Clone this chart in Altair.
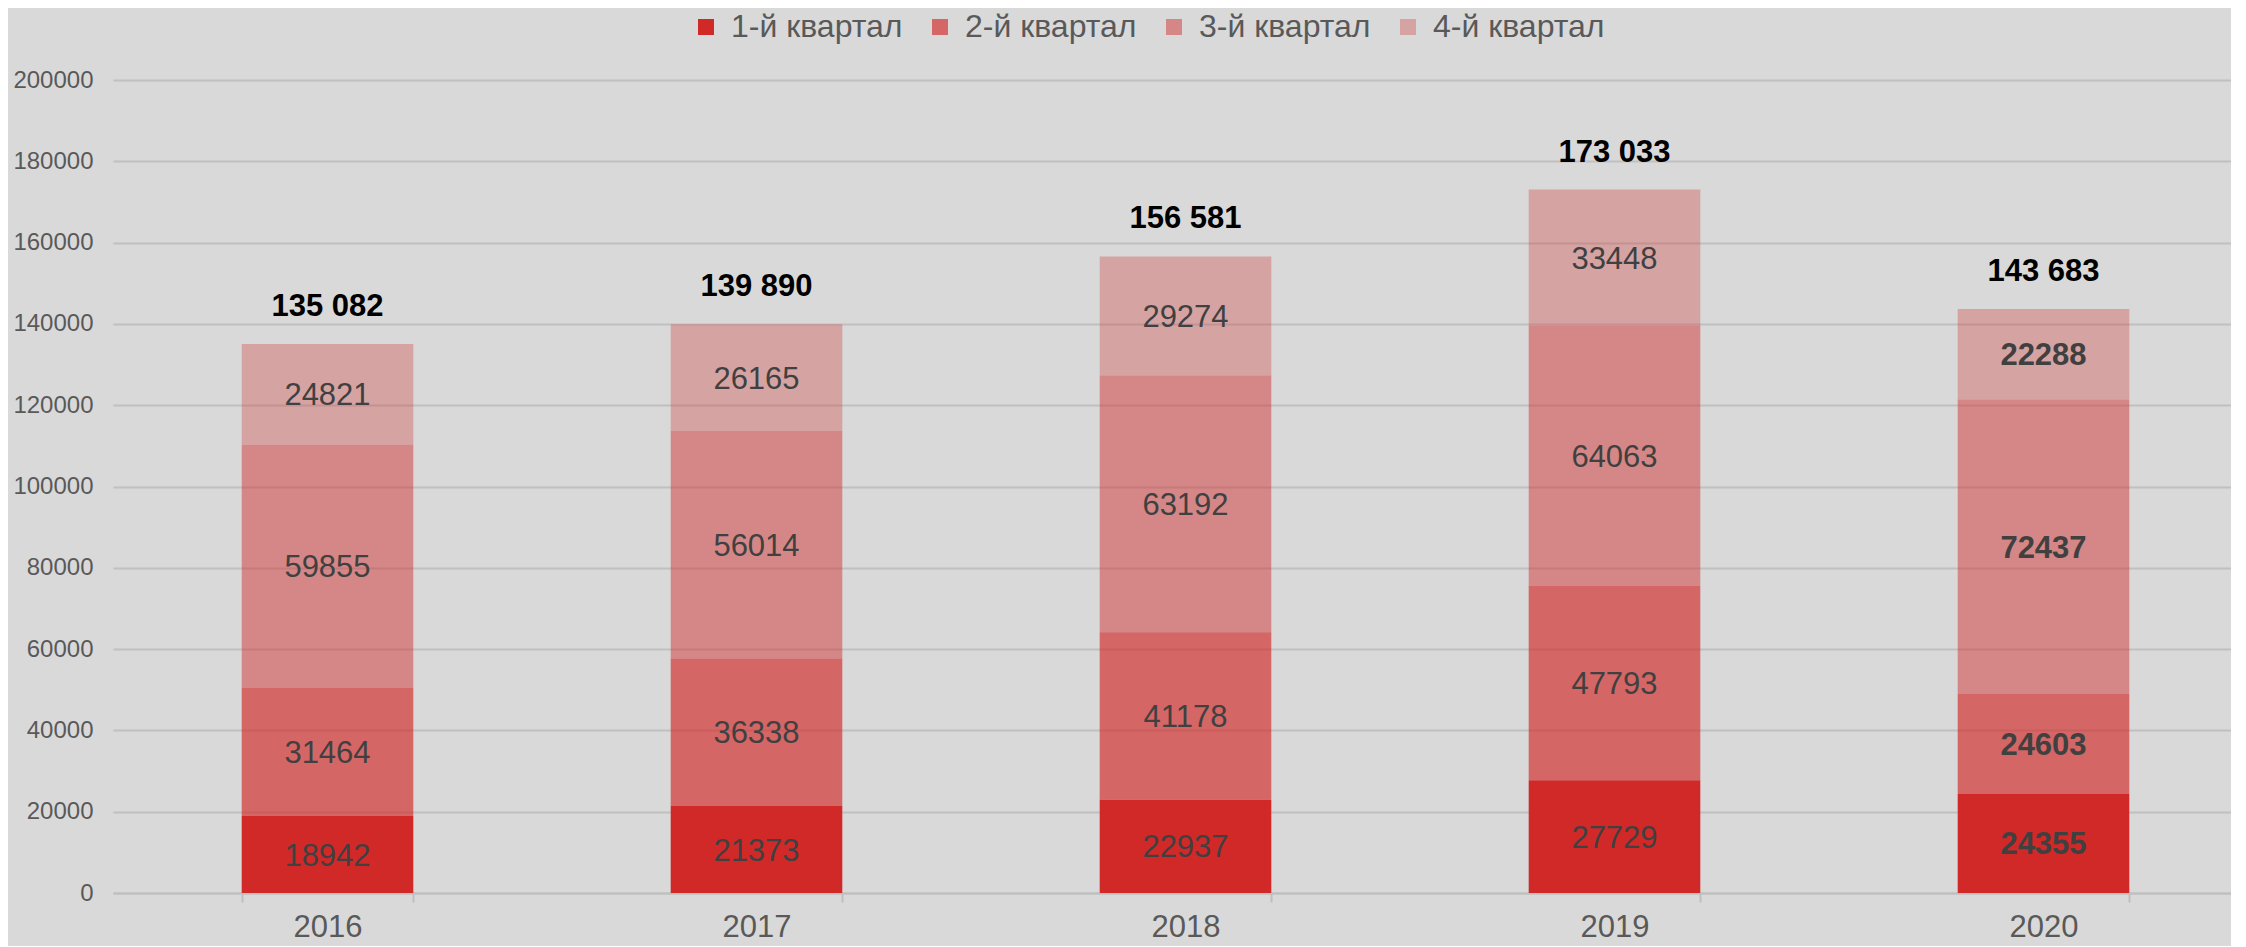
import altair as alt
import pandas as pd

years = ["2016", "2017", "2018", "2019", "2020"]
quarters = ["1-й квартал", "2-й квартал", "3-й квартал", "4-й квартал"]
q1 = [18942, 21373, 22937, 27729, 24355]
q2 = [31464, 36338, 41178, 47793, 24603]
q3 = [59855, 56014, 63192, 64063, 72437]
q4 = [24821, 26165, 29274, 33448, 22288]
series = [q1, q2, q3, q4]
y_ticks = list(range(0, 200001, 20000))
quarter_colors = [
    "rgb(209,40,40)",
    "rgba(209,40,40,0.65)",
    "rgba(209,40,40,0.46)",
    "rgba(209,40,40,0.30)",
]

rows = []
for qi, (qname, vals) in enumerate(zip(quarters, series)):
    for y, v in zip(years, vals):
        rows.append({"year": y, "quarter": qname, "qi": qi, "value": v})
df = pd.DataFrame(rows)

totals = []
for i, y in enumerate(years):
    t = sum(s[i] for s in series)
    totals.append({"year": y, "total": t, "label": f"{t:,}".replace(",", " ")})
tot_df = pd.DataFrame(totals)

FONT = "Liberation Sans"

x_enc = alt.X(
    "year:N",
    sort=years,
    scale=alt.Scale(paddingInner=0.6, paddingOuter=0.3, range=[0, 2145]),
    axis=alt.Axis(
        title=None, labelAngle=0, tickBand="extent", labelFontSize=31,
        labelColor="#595959", labelFont=FONT, domainColor="#BFBFBF",
        domainWidth=2, tickColor="#BFBFBF", tickWidth=2, tickSize=9,
        labelPadding=10, grid=False,
    ),
)

y_scale = alt.Scale(domain=[0, 200000], nice=False)
y_axis = alt.Axis(
    title=None, values=y_ticks, format="d", labelFontSize=24,
    labelColor="#595959", labelFont=FONT, domain=False, ticks=False,
    labelPadding=20, gridColor="#C0C0C0", gridWidth=2,
)

bars = alt.Chart(df).mark_bar().encode(
    x=x_enc,
    y=alt.Y("value:Q", stack="zero", scale=y_scale, axis=y_axis),
    color=alt.Color(
        "quarter:N",
        scale=alt.Scale(domain=quarters, range=quarter_colors),
        legend=alt.Legend(title=None),
    ),
    order=alt.Order("qi:Q", sort="ascending"),
)

lab_base = alt.Chart(df).transform_stack(
    stack="value", groupby=["year"], as_=["v0", "v1"],
    sort=[alt.SortField("qi", order="ascending")],
).transform_calculate(mid="(datum.v0 + datum.v1) / 2")

labels_normal = lab_base.transform_filter("datum.year != '2020'").mark_text(
    fontSize=31, color="#404040", font=FONT, baseline="middle", dy=2
).encode(
    x=x_enc,
    y=alt.Y("mid:Q", scale=y_scale, axis=y_axis),
    text=alt.Text("value:Q", format="d"),
)

labels_bold = lab_base.transform_filter("datum.year == '2020'").mark_text(
    fontSize=31, color="#404040", font=FONT, fontWeight="bold", baseline="middle", dy=2
).encode(
    x=x_enc,
    y=alt.Y("mid:Q", scale=y_scale, axis=y_axis),
    text=alt.Text("value:Q", format="d"),
)

tot_labels = alt.Chart(tot_df).mark_text(
    fontSize=31, color="#000000", font=FONT, fontWeight="bold",
    baseline="middle", dy=-37,
).encode(
    x=x_enc,
    y=alt.Y("total:Q", scale=y_scale, axis=y_axis),
    text="label:N",
)

chart = alt.layer(bars, labels_normal, labels_bold, tot_labels).properties(
    width=2118,
    height=813,
    background="#D9D9D9",
    autosize=alt.AutoSizeParams(type="none"),
    padding={"left": 105, "top": 72, "right": 0, "bottom": 53},
).configure_view(
    stroke=None
).configure_legend(
    orient="none",
    direction="horizontal",
    legendX=577,
    legendY=-69,
    labelFontSize=32,
    labelFont=FONT,
    labelColor="#595959",
    labelLimit=400,
    symbolType="square",
    symbolSize=256,
    symbolStrokeWidth=0,
    labelOffset=9,
    columnPadding=21,
)

chart.save("out.html", embed_options={"renderer": "svg", "actions": False})
